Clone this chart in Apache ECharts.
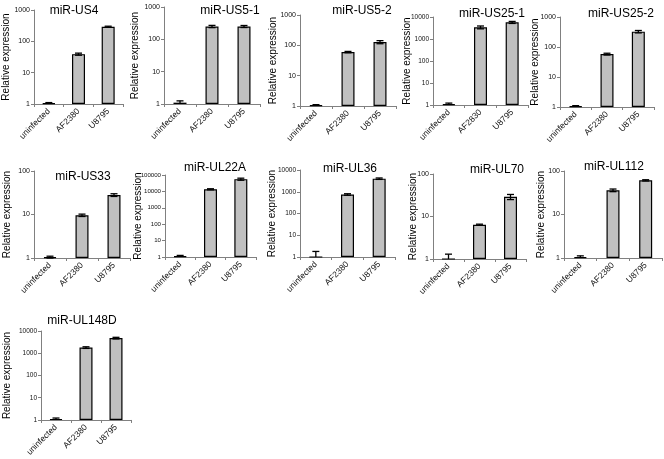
<!DOCTYPE html>
<html>
<head>
<meta charset="utf-8">
<script src="https://cdn.jsdelivr.net/npm/echarts@6/dist/echarts.min.js"></script>
<style>html,body{margin:0;padding:0;background:#fff}#c{width:664px;height:459px}</style>
</head>
<body>
<div id="c"></div>
<script>
// ---- data ----
const panelTitles = ['miR-US4','miR-US5-1','miR-US5-2','miR-US25-1','miR-US25-2','miR-US33','miR-UL22A','miR-UL36','miR-UL70','miR-UL112','miR-UL148D'];
const categories = ['uninfected','AF2380','U8795'];
const categoriesUS25_1 = ['uninfected','AF2830','U8795'];
const uninfectedMean = [1.05, 1.1, 1.05, 1.1, 1.05, 1.05, 1.1, 1.0, 1.0, 1.05, 1.1];
const uninfectedErr  = [0.06, 0.15, 0.06, 0.12, 0.06, 0.05, 0.15, 0.8, 0.3, 0.07, 0.12];
const af2380Mean = [39, 250, 60, 3400, 58, 9.6, 13500, 750, 6.4, 36, 1800];
const af2380Err  = [3, 20, 3, 500, 4, 0.6, 1000, 60, 0.2, 2.5, 150];
const u8795Mean  = [292, 250, 128, 5700, 325, 28, 56000, 4000, 29, 61, 4800];
const u8795Err   = [12, 18, 15, 600, 30, 2, 8000, 300, 4, 2, 400];
const yAxisMax   = [1000, 1000, 1000, 10000, 1000, 100, 100000, 10000, 100, 100, 10000];

// ---- layout (pixels): left, top, width, height, nameGap, titleX, titleY, yLabelFont ----
const layout = [
  [32, 10, 91, 94, 23, 69, 0, 7],
  [164, 7, 96, 97, 24, 225, 0, 7],
  [300, 15, 96, 91, 22, 357, 0, 7],
  [433, 17, 95, 88, 21, 487, 3, 6.5],
  [560, 17, 94, 90, 20, 616, 3, 7],
  [34, 171, 96, 87, 22, 78, 166, 7],
  [165, 175, 91, 82, 22, 210, 157, 6.1],
  [300, 170, 95, 87, 23, 345, 158, 6.5],
  [433, 174, 93, 85, 15, 492, 159, 7],
  [564, 171, 98, 87, 18, 609, 156, 7],
  [41, 331, 90, 90, 29, 77, 310, 6.5]
];

const FONT = '"Liberation Sans", Arial, sans-serif';
const grids = [], xAxes = [], yAxes = [], titles = [], series = [];

function errRender(params, api) {
  const cat = api.value(0), mean = api.value(1), err = api.value(2);
  const hiP = api.coord([cat, mean + err]);
  const lowVal = mean - err;
  const lowClipped = lowVal < 1;
  const loP = api.coord([cat, lowClipped ? 1 : lowVal]);
  const cw = 3.5;
  const st = {stroke: '#000', lineWidth: 1.3};
  const children = [
    {type: 'line', shape: {x1: hiP[0], y1: hiP[1], x2: loP[0], y2: loP[1]}, style: st},
    {type: 'line', shape: {x1: hiP[0] - cw, y1: hiP[1], x2: hiP[0] + cw, y2: hiP[1]}, style: st}
  ];
  if (!lowClipped) {
    children.push({type: 'line', shape: {x1: loP[0] - cw, y1: loP[1], x2: loP[0] + cw, y2: loP[1]}, style: st});
  }
  return {type: 'group', children};
}

panelTitles.forEach((t, i) => {
  const L = layout[i];
  grids.push({left: L[0], top: L[1], width: L[2], height: L[3], containLabel: false});
  titles.push({text: t, left: L[5], top: L[6], textAlign: 'center',
    textStyle: {fontFamily: FONT, fontSize: 12, fontWeight: 'normal', color: '#000'}});
  const cats = i === 3 ? categoriesUS25_1 : categories;
  xAxes.push({type: 'category', gridIndex: i, data: cats,
    axisLine: {lineStyle: {color: '#808080', width: 1}},
    axisTick: {show: true, length: 3, alignWithLabel: false, lineStyle: {color: '#808080'}},
    axisLabel: {rotate: 45, fontSize: 8.5, fontFamily: FONT, color: '#111', margin: 6, interval: 0}
  });
  const decades = Math.round(Math.log10(yAxisMax[i]));
  yAxes.push({type: 'log', gridIndex: i, logBase: 10, min: 1, max: yAxisMax[i], splitNumber: decades,
    name: 'Relative expression', nameLocation: 'middle', nameGap: L[4], nameRotate: 90,
    nameMoveOverlap: false,
    nameTextStyle: {fontFamily: FONT, fontSize: 10, color: '#000'},
    axisLine: {show: true, lineStyle: {color: '#808080', width: 1}},
    axisTick: {show: true, length: 3, lineStyle: {color: '#808080'}},
    minorTick: {show: false},
    splitLine: {show: false},
    axisLabel: {fontSize: L[7], fontFamily: FONT, color: '#111', margin: 4,
      formatter: v => String(Math.round(v))}
  });
  const means = [uninfectedMean[i], af2380Mean[i], u8795Mean[i]];
  const errs = [uninfectedErr[i], af2380Err[i], u8795Err[i]];
  series.push({type: 'bar', xAxisIndex: i, yAxisIndex: i, data: means, barWidth: 13,
    itemStyle: {color: '#c0c0c0', borderColor: '#000', borderWidth: 1.2}, silent: true, animation: false});
  series.push({type: 'custom', xAxisIndex: i, yAxisIndex: i, renderItem: errRender, clip: false,
    data: means.map((m, k) => [k, m, errs[k]]), encode: {x: 0, y: 1}, animation: false, z: 5});
});

const chart = echarts.init(document.getElementById('c'), null, {renderer: 'canvas'});
chart.setOption({animation: false, backgroundColor: '#fff', title: titles, grid: grids, xAxis: xAxes, yAxis: yAxes, series});
</script>
</body>
</html>
